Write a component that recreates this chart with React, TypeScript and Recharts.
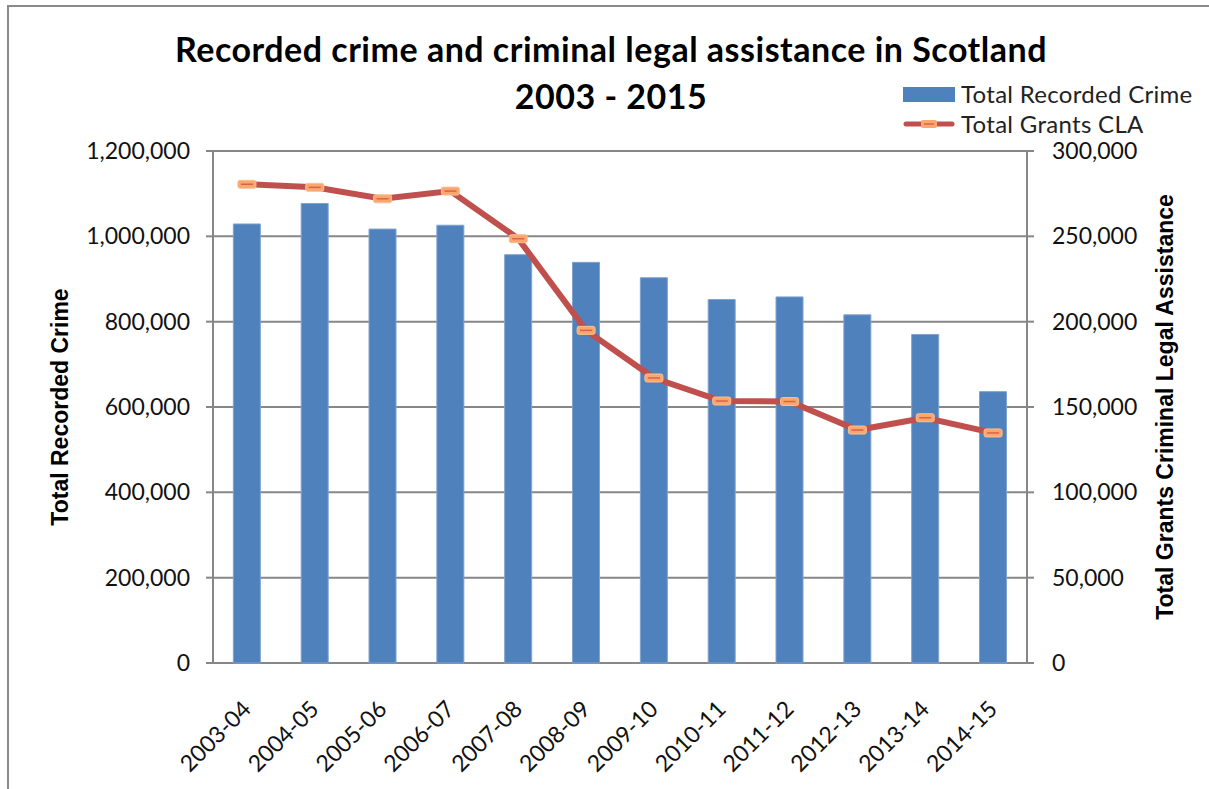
import React from 'react';
import { ComposedChart, Bar, Line, XAxis, YAxis, CartesianGrid } from 'recharts';

const years = ['2003-04', '2004-05', '2005-06', '2006-07', '2007-08', '2008-09', '2009-10', '2010-11', '2011-12', '2012-13', '2013-14', '2014-15'];
const recordedCrime = [1029000, 1077000, 1017000, 1026000, 957000, 939000, 903000, 852000, 858000, 816000, 770000, 636000];
const grantsCLA = [280500, 278700, 272000, 276500, 248600, 194900, 167000, 153500, 153200, 136500, 143700, 134800];
const leftTicks = [0, 200000, 400000, 600000, 800000, 1000000, 1200000];
const rightTicks = [0, 50000, 100000, 150000, 200000, 250000, 300000];
const boundaryTicks = [0, 1, 2, 3, 4, 5, 6, 7, 8, 9, 10, 11, 12];

const data = years.map((year, i) => ({ year, crime: recordedCrime[i], cla: grantsCLA[i] }));

const FONT = 'Lato, "Open Sans", sans-serif';
const AXIS = '#878787';
const BLUE = '#4F81BD';
const RED = '#C0504D';
const fmt = (v: number) => v.toLocaleString('en-GB');

// dash marker used by Excel for the CLA series
const DashDot = (props: any) => {
  const { cx, cy } = props;
  if (cx == null || cy == null) return null;
  return (
    <g>
      <rect x={cx - 9} y={cy - 4} width={18} height={8} rx={2} fill="#F9A76E" stroke="#FAC090" strokeWidth={1} />
      <line x1={cx - 6} y1={cy} x2={cx + 6} y2={cy} stroke="#D9634A" strokeWidth={1.5} />
    </g>
  );
};

const LegendBox = () => (
  <div style={{ position: 'absolute', left: 903, top: 79, fontFamily: FONT, fontSize: 24, letterSpacing: 0.3, color: '#222', lineHeight: '30px' }}>
    <div style={{ display: 'flex', alignItems: 'center' }}>
      <span style={{ display: 'inline-block', width: 52, height: 15, background: BLUE, marginRight: 6 }} />
      Total Recorded Crime
    </div>
    <div style={{ display: 'flex', alignItems: 'center' }}>
      <svg width={52} height={12} style={{ marginRight: 6 }}>
        <line x1={3} y1={6} x2={49} y2={6} stroke={RED} strokeWidth={5} strokeLinecap="round" />
        <rect x={18} y={2} width={16} height={8} rx={2} fill="#F9A76E" />
        <line x1={21} y1={6} x2={31} y2={6} stroke="#D9634A" strokeWidth={1.5} />
      </svg>
      Total Grants CLA
    </div>
  </div>
);

const sideTitle = (text: string, dx: number) => (props: any) => {
  const { viewBox } = props;
  const x = viewBox.x + dx;
  const y = viewBox.y + viewBox.height / 2;
  return (
    <text x={x} y={y} transform={`rotate(-90 ${x} ${y})`} textAnchor="middle" dominantBaseline="central"
      fontFamily='"Liberation Sans", Arial, sans-serif' fontSize={23} fontWeight={700} fill="#000">
      {text}
    </text>
  );
};

export default function App() {
  return (
    <div style={{ position: 'fixed', left: 0, top: 0, width: 1209, height: 789, background: '#fff', overflow: 'hidden' }}>
      <div style={{ position: 'absolute', left: 7, top: 5, width: 1220, height: 820, border: '2px solid #8a8a8a' }} />
      <div style={{ position: 'absolute', left: 0, top: 25, width: 1222, textAlign: 'center', fontFamily: FONT, fontWeight: 700, fontSize: 34, letterSpacing: 0.5, lineHeight: '47px', color: '#000' }}>
        Recorded crime and criminal legal assistance in Scotland
        <br />
        2003 - 2015
      </div>
      <ComposedChart width={1209} height={789} data={data} margin={{ top: 151, right: 0, bottom: 0, left: 0 }} barCategoryGap="30%"
        style={{ position: 'absolute', left: 0, top: 0 }}>
        <CartesianGrid vertical={false} stroke={AXIS} strokeWidth={2} yAxisId="left" xAxisId="cat" />
        <XAxis xAxisId="grid" type="number" domain={[0, 12]} ticks={boundaryTicks} tick={false} height={0}
          axisLine={{ stroke: AXIS, strokeWidth: 2 }} tickLine={{ stroke: AXIS, strokeWidth: 2 }} tickSize={8} />
        <XAxis xAxisId="cat" dataKey="year" height={126} axisLine={false} tickLine={false} tickSize={0} tickMargin={36}
          angle={-45} textAnchor="end" interval={0} tick={{ fontFamily: FONT, fontSize: 23, fill: '#111', dx: -6 }} />
        <YAxis yAxisId="left" width={213} domain={[0, 1200000]} ticks={leftTicks} tickFormatter={fmt}
          axisLine={{ stroke: AXIS, strokeWidth: 2 }} tickLine={{ stroke: AXIS, strokeWidth: 2 }} tickSize={7} tickMargin={16}
          tick={{ fontFamily: FONT, fontSize: 23, fill: '#111' }}
          label={{ content: sideTitle('Total Recorded Crime', 60) }} />
        <YAxis yAxisId="right" orientation="right" width={182} domain={[0, 300000]} ticks={rightTicks} tickFormatter={fmt}
          axisLine={{ stroke: AXIS, strokeWidth: 2 }} tickLine={{ stroke: AXIS, strokeWidth: 2 }} tickSize={7} tickMargin={18}
          tick={{ fontFamily: FONT, fontSize: 23, fill: '#111' }}
          label={{ content: sideTitle('Total Grants Criminal Legal Assistance', 138) }} />
        <Bar xAxisId="cat" yAxisId="left" dataKey="crime" name="Total Recorded Crime" fill={BLUE} stroke="#7FA3D0" strokeWidth={1} isAnimationActive={false} />
        <Line xAxisId="cat" yAxisId="right" dataKey="cla" name="Total Grants CLA" type="linear" stroke={RED} strokeWidth={6}
          dot={<DashDot />} activeDot={false} isAnimationActive={false} />
      </ComposedChart>
      <LegendBox />
    </div>
  );
}
